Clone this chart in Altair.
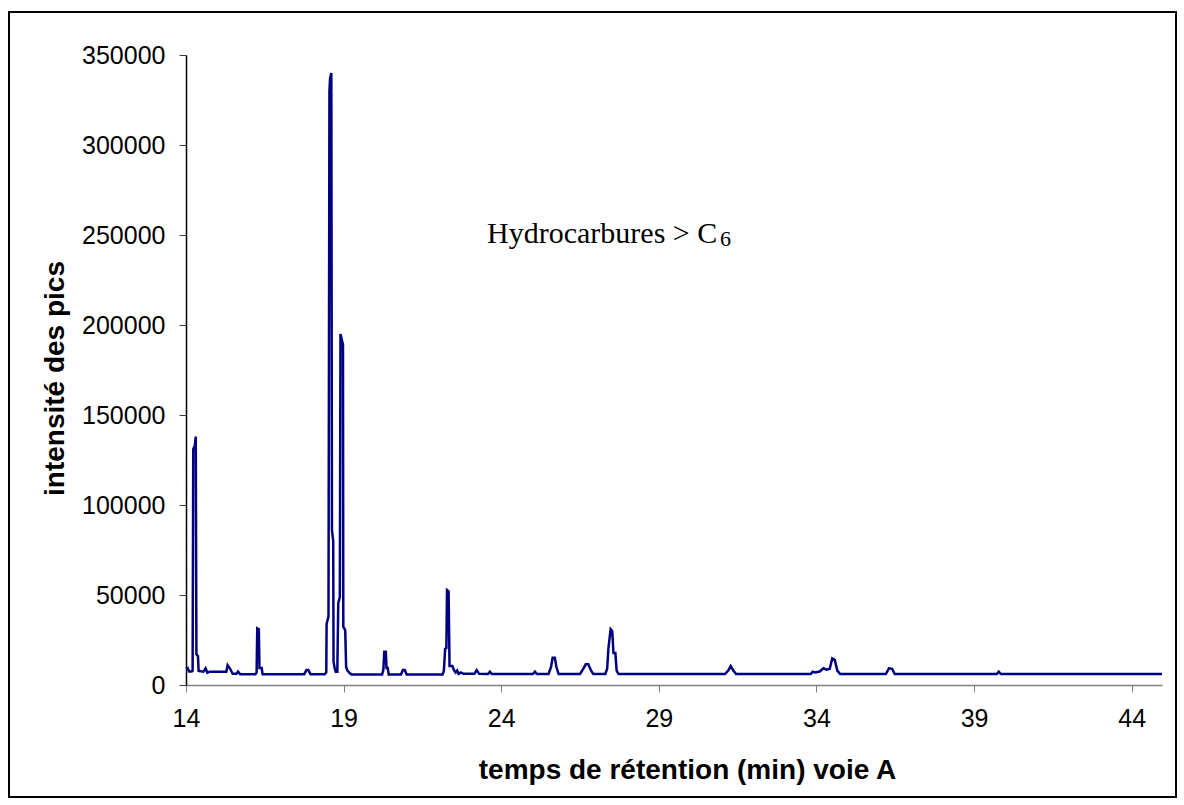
import altair as alt
import pandas as pd

# Chromatogram trace: retention time (min) and detector intensity
time_min = [
    14.00, 14.05, 14.10, 14.18, 14.21, 14.23, 14.28, 14.31, 14.33, 14.38, 14.40,
    14.55, 14.62, 14.68, 14.75, 15.28, 15.32, 15.40, 15.48, 15.60, 15.65, 15.72,
    16.20, 16.24, 16.26, 16.31, 16.33, 16.40, 16.43, 17.75, 17.82, 17.88, 17.95,
    18.40, 18.45, 18.46, 18.52, 18.55, 18.57, 18.61, 18.63, 18.67, 18.68, 18.72,
    18.75, 18.80, 18.83, 18.88, 18.90, 18.98, 18.99, 19.05, 19.08, 19.12, 19.20,
    19.25, 20.22, 20.26, 20.29, 20.34, 20.36, 20.40, 20.43, 20.82, 20.88, 20.94,
    21.00, 22.14, 22.18, 22.22, 22.26, 22.28, 22.33, 22.36, 22.45, 22.50, 22.55,
    22.60, 22.65, 22.72, 22.80, 23.15, 23.22, 23.30, 23.58, 23.64, 23.70, 25.00,
    25.07, 25.13, 25.50, 25.58, 25.63, 25.70, 25.75, 25.82, 26.50, 26.60, 26.68,
    26.76, 26.85, 26.92, 27.30, 27.36, 27.40, 27.47, 27.52, 27.56, 27.62, 27.66,
    27.72, 31.10, 31.20, 31.28, 31.36, 31.45, 33.82, 33.88, 33.96, 34.10, 34.22,
    34.32, 34.42, 34.50, 34.58, 34.66, 34.75, 36.20, 36.30, 36.40, 36.48, 39.72,
    39.78, 39.85, 44.96,
]
intensity = [
    9000, 9500, 7500, 7500, 8000, 131000, 133000, 138000, 17000, 16000, 7800,
    7400, 9200, 6800, 7400, 7400, 11000, 9000, 6200, 6200, 7500, 6000,
    6000, 7000, 31500, 31000, 9400, 9400, 6000, 6000, 8300, 8300, 6000,
    6000, 7000, 34000, 38000, 330000, 337000, 340000, 86000, 80000, 13000, 9000,
    7400, 7400, 45500, 49000, 195000, 189000, 32400, 30500, 10000, 8000, 6500,
    5900, 5900, 8300, 18500, 18500, 9400, 9400, 5900, 5900, 8300, 8300,
    5900, 5900, 8000, 20000, 20500, 52700, 52000, 10500, 10500, 8300, 7000,
    8000, 6200, 7000, 6200, 6200, 8300, 6200, 6100, 7400, 6100, 6100,
    7400, 6100, 6100, 10000, 15200, 15200, 10000, 6100, 6100, 9000, 11500,
    11500, 8000, 6100, 6100, 9000, 20400, 31000, 30000, 17800, 17800, 8000,
    6100, 6100, 8000, 10500, 8000, 6100, 6100, 7400, 7000, 7500, 9300,
    8500, 9000, 14800, 14000, 8000, 6100, 6100, 9300, 9000, 6100, 6100,
    7400, 6100, 6100,
]

x_ticks = [14, 19, 24, 29, 34, 39, 44]
y_ticks = [0, 50000, 100000, 150000, 200000, 250000, 300000, 350000]

label_main = ["Hydrocarbures > C"]
label_sub = ["6"]

trace = pd.DataFrame({"t": time_min, "i": intensity, "order": list(range(len(time_min)))})

x_scale = alt.Scale(domain=[14, 44.96], nice=False, zero=False)
y_scale = alt.Scale(domain=[0, 350000], nice=False)

line = alt.Chart(trace).mark_line(color="#000080", strokeWidth=2.5).encode(
    x=alt.X(
        "t:Q",
        scale=x_scale,
        axis=alt.Axis(
            title="temps de rétention (min) voie A",
            values=x_ticks,
            format="d",
            grid=False,
            domainColor="#808080",
            tickColor="#808080",
            domainWidth=1.5,
            tickSize=7,
            labelPadding=14,
            labelFlush=False,
            labelFont="Liberation Sans",
            labelFontSize=25,
            labelColor="black",
            titleFont="Liberation Sans",
            titleFontSize=28,
            titleFontWeight="bold",
            titleColor="black",
            titleX=501,
            titleY=93,
            titleBaseline="alphabetic",
        ),
    ),
    y=alt.Y(
        "i:Q",
        scale=y_scale,
        axis=alt.Axis(
            title="intensité des pics",
            values=y_ticks,
            format="d",
            grid=False,
            domainColor="black",
            tickColor="#404040",
            domainWidth=1.5,
            tickSize=7,
            labelPadding=14,
            labelFlush=False,
            labelFont="Liberation Sans",
            labelFontSize=25,
            labelColor="black",
            titleFont="Liberation Sans",
            titleFontSize=28,
            titleFontWeight="bold",
            titleColor="black",
            titleAngle=270,
            titleX=-131,
            titleY=323,
            titleAlign="center",
            titleBaseline="middle",
        ),
    ),
    order="order:Q",
)

main_text = alt.Chart(pd.DataFrame({"t": [23.55], "i": [245700], "s": label_main})).mark_text(
    font="Liberation Serif", fontSize=30, align="left", baseline="alphabetic", color="black"
).encode(x=alt.X("t:Q", scale=x_scale), y=alt.Y("i:Q", scale=y_scale), text="s:N")

sub_text = alt.Chart(pd.DataFrame({"t": [30.94], "i": [244000], "s": label_sub})).mark_text(
    font="Liberation Serif", fontSize=22, align="left", baseline="alphabetic", color="black"
).encode(x=alt.X("t:Q", scale=x_scale), y=alt.Y("i:Q", scale=y_scale), text="s:N")

# Chart-area frame around everything
frame = alt.Chart(pd.DataFrame({"k": [0]})).mark_rect(
    fill=None, stroke="black", strokeWidth=2
).encode(
    x=alt.value(-177), x2=alt.value(990), y=alt.value(-43), y2=alt.value(742)
)

chart = alt.layer(frame, line, main_text, sub_text).properties(
    width=976,
    height=630,
    autosize="none",
    padding={"left": 186, "top": 55, "right": 22, "bottom": 120},
    background="white",
).configure_view(stroke=None)

chart.save("out.html", embed_options={"renderer": "svg", "actions": False})
